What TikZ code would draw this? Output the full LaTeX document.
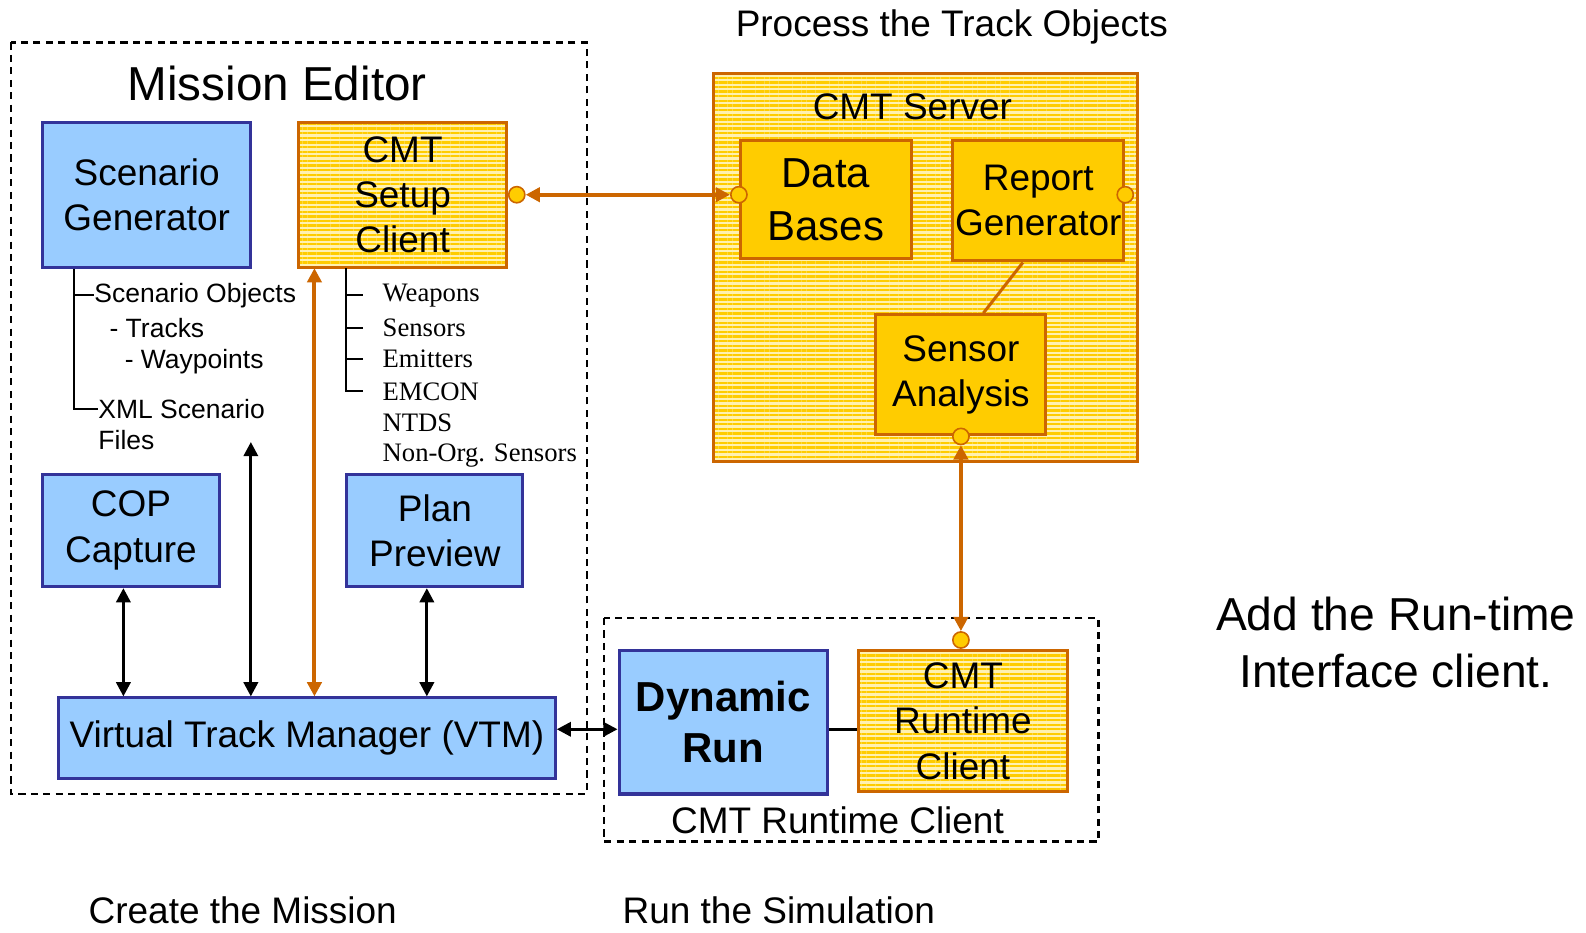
\documentclass[tikz,border=0pt]{standalone}
\usepackage{fontspec}
\setmainfont{Liberation Sans}
\newfontfamily\timesfont{Liberation Serif}
\usetikzlibrary{arrows.meta,patterns.meta}
\definecolor{boxblue}{HTML}{99CCFF}
\definecolor{edgeblue}{HTML}{333399}
\definecolor{orng}{HTML}{CC6600}
\definecolor{gold}{HTML}{FFCC00}
\definecolor{stripebg}{HTML}{FFF1B0}

\begin{document}
\begin{tikzpicture}[x=0.02cm,y=-0.02cm,
                    boxfont/.style={font=\fontsize{20.8}{25.5}\selectfont},
                    bluebox/.style={draw=edgeblue,fill=boxblue,line width=1.7pt,align=center,inner sep=0pt,boxfont},
                    stripebox/.style={draw=orng,line width=1.7pt,preaction={fill=stripebg},
                        pattern={Lines[angle=0,distance=2.6pt,line width=1.3pt]},pattern color=gold,
                        align=center,inner sep=0pt,boxfont},
                    goldbox/.style={draw=orng,fill=gold,line width=1.7pt,align=center,inner sep=0pt,boxfont},
                    port/.style={circle,draw=orng,fill=gold,line width=0.9pt,minimum size=0.32cm,inner sep=0pt},
                    barrow/.style={line width=1.7pt,{Triangle[length=8pt,width=8pt]}-{Triangle[length=8pt,width=8pt]}},
                    oarrow/.style={draw=orng,line width=2.2pt,{Triangle[length=8pt,width=8pt]}-{Triangle[length=8pt,width=8pt]}},
                    treeline/.style={line width=1.1pt},
                    treetext/.style={anchor=west,inner sep=0pt,font=\fontsize{14.9}{18}\selectfont},
                    listtext/.style={anchor=west,inner sep=0pt,font=\timesfont\fontsize{15}{18}\selectfont},
                    dashbox/.style={dashed,line width=1.2pt,dash pattern=on 4pt off 3pt},
                    title/.style={anchor=base,inner sep=0pt}]
                    \useasboundingbox (0,0) rectangle (1568,922);

                    \draw[dashbox] (11,42) rectangle (580,785);
                    \draw[dashbox] (597,611) rectangle (1086,832);

                    \node[title,font=\fontsize{26.8}{32}\selectfont] (mission) at (274,99) {Mission Editor};
                    \node[title,boxfont] (process) at (941,36) {Process the Track Objects};
                    \node[title,boxfont] (create) at (240,913) {Create the Mission};
                    \node[title,boxfont] (simulate) at (770,913) {Run the Simulation};
                    \node[align=center,inner sep=0pt,font=\fontsize{26}{32.4}\selectfont] (addrt) at (1380,635) {Add the Run-time\\Interface client.};

                    \node[bluebox,minimum width=4.12cm,minimum height=2.86cm] (scengen) at (145,192.5) {Scenario\\Generator};
                    \node[stripebox,minimum width=4.12cm,minimum height=2.86cm] (setupcl) at (398,192.5) {CMT\\Setup\\Client};
                    \node[bluebox,minimum width=3.5cm,minimum height=2.22cm] (copcap) at (129.5,524.5) {COP\\Capture};
                    \node[bluebox,minimum width=3.48cm,minimum height=2.22cm] (planprev) at (430,524.5) {Plan\\Preview};
                    \node[bluebox,minimum width=9.82cm,minimum height=1.6cm] (vtm) at (303.5,730) {Virtual Track Manager (VTM)};

                    \node[bluebox,minimum width=4.12cm,minimum height=2.84cm,font=\bfseries\fontsize{23.6}{29}\selectfont] (dynrun) at (715,714) {Dynamic\\Run};
                    \node[stripebox,minimum width=4.12cm,minimum height=2.8cm] (rtclient) at (952,713) {CMT\\Runtime\\Client};
                    \node[title,boxfont] (rtlabel) at (828,824) {CMT Runtime Client};

                    \node[stripebox,minimum width=8.4cm,minimum height=7.66cm] (server) at (915,264.5) {};
                    \node[title,boxfont] (srvlabel) at (902,118) {CMT Server};
                    \node[goldbox,minimum width=3.38cm,minimum height=2.34cm,font=\fontsize{23.6}{29.5}\selectfont] (databases) at (816.5,197.5) {Data\\Bases};
                    \node[goldbox,minimum width=3.38cm,minimum height=2.38cm] (reportgen) at (1026.5,198.5) {Report\\Generator};
                    \node[goldbox,minimum width=3.36cm,minimum height=2.38cm] (sensana) at (950,370.5) {Sensor\\Analysis};
                    \draw[orng,line width=1.7pt] (reportgen.256) -- (sensana.70);

                    \node[treetext] (scobj) at (93,292) {Scenario Objects};
                    \node[treetext] (tracks) at (108,324) {- Tracks};
                    \node[treetext] (waypts) at (123,358) {- Waypoints};
                    \node[treetext] (xmlfile) at (97,404) {XML Scenario};
                    \node[treetext] (files) at (97,435) {Files};
                    \coordinate (scstem) at ([xshift=0.66cm]scengen.south west);
                    \draw[treeline] (scstem) |- (xmlfile.west);
                    \draw[treeline] (scstem |- scobj.west) -- (scobj.west);

                    \node[listtext] (wpn) at (378,292) {Weapons};
                    \node[listtext] (sen) at (378,324) {Sensors};
                    \node[listtext] (emi) at (378,355) {Emitters};
                    \node[listtext] (emc) at (378,387) {EMCON};
                    \node[listtext] (ntds) at (378,418) {NTDS};
                    \node[listtext] (nonorg) at (378,450) {Non-Org. Sensors};
                    \coordinate (ststem) at ([xshift=0.96cm]setupcl.south west);
                    \draw[treeline] (ststem) -- (ststem |- emc.west) -- ++(17,0);
                    \foreach \w in {wpn,sen,emi}
                        \draw[treeline] (ststem |- \w.west) -- ++(17,0);

                    \node[port,anchor=west] (p1) at (setupcl.east) {};
                    \node[port] (p2) at (databases.west |- p1) {};
                    \node[port] (p3) at (reportgen.east |- p1) {};
                    \node[port] (p4) at (sensana.south) {};
                    \node[port,anchor=south] (p5) at (p4 |- rtclient.north) {};
                    \draw[oarrow] (p1) -- (p2);
                    \draw[oarrow] (p4) -- (p5);

                    \coordinate (copx) at ([xshift=-0.15cm]copcap.south);
                    \coordinate (planx) at ([xshift=-0.16cm]planprev.south);
                    \coordinate (filetop) at (248,437);
                    \coordinate (setupx) at ([xshift=0.34cm]setupcl.south west);
                    \draw[barrow] (copx) -- (copx |- vtm.north);
                    \draw[barrow] (planx) -- (planx |- vtm.north);
                    \draw[barrow] (filetop) -- (filetop |- vtm.north);
                    \draw[oarrow] (setupx) -- (setupx |- vtm.north);

                    \coordinate (vtmx) at ([yshift=0.18cm]vtm.east);
                    \draw[barrow] (vtmx) -- (vtmx -| dynrun.west);
                    \draw[line width=1.7pt] ([yshift=-0.14cm]dynrun.east) -- ([yshift=-0.14cm]dynrun.east -| rtclient.west);
                \end{tikzpicture}
\end{document}
